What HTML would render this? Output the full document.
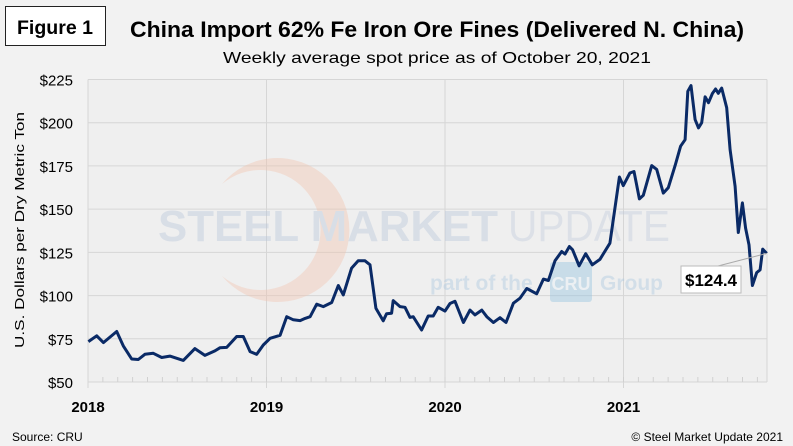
<!DOCTYPE html>
<html><head><meta charset="utf-8"><style>
html,body{margin:0;padding:0;background:#f2f2f2;}
svg{display:block;font-family:"Liberation Sans",sans-serif;}
</style></head><body>
<svg width="793" height="446" viewBox="0 0 793 446">
<rect x="0" y="0" width="793" height="446" fill="#f2f2f2"/>
<rect x="5.5" y="6.5" width="100" height="39" fill="#fff" stroke="#222"/>
<text x="55" y="34" text-anchor="middle" font-size="19" font-weight="bold" textLength="76" lengthAdjust="spacingAndGlyphs">Figure 1</text>
<text x="437" y="37" text-anchor="middle" font-size="22" font-weight="bold" textLength="614" lengthAdjust="spacingAndGlyphs">China Import 62% Fe Iron Ore Fines (Delivered N. China)</text>
<text x="437" y="63" text-anchor="middle" font-size="16" textLength="428" lengthAdjust="spacingAndGlyphs">Weekly average spot price as of October 20, 2021</text>
<rect x="88" y="79" width="679" height="303" fill="#efefef"/>
<g id="grid"></g>
<g opacity="0.4">
<path d="M222 184 A72 72 0 1 1 222 276 A60 60 0 1 0 222 184 Z" fill="#f2c4ae"/>
<text x="158" y="241" font-size="44" font-weight="bold" fill="#b7c5db" textLength="340" lengthAdjust="spacingAndGlyphs">STEEL MARKET</text>
<text x="508" y="241" font-size="44" fill="#c2ccdd" textLength="162" lengthAdjust="spacingAndGlyphs">UPDATE</text>
<text x="430" y="290" font-size="21" font-weight="bold" fill="#a9c7e0">part of the</text>
<rect x="550" y="262" width="42" height="40" rx="3" fill="#8fc2e0"/>
<text x="571" y="290" text-anchor="middle" font-size="18" font-weight="bold" fill="#e8f3fa">CRU</text>
<text x="600" y="290" font-size="21" font-weight="bold" fill="#a9c7e0">Group</text>
</g>
<g id="axes"></g>
<path id="series" fill="none" stroke="#0a2a66" stroke-width="3" stroke-linejoin="round"/>
<line id="leader" stroke="#aaa" stroke-width="1"/>
<rect x="681" y="266" width="60" height="27" fill="#fff" stroke="#bbb"/>
<text id="lastlbl" x="711" y="286" text-anchor="middle" font-size="17" font-weight="bold"></text>
<text x="24" y="230" transform="rotate(-90 24 230)" text-anchor="middle" font-size="13" textLength="236" lengthAdjust="spacingAndGlyphs">U.S. Dollars per Dry Metric Ton</text>
<text x="12" y="441" font-size="12">Source: CRU</text>
<text x="783" y="441" text-anchor="end" font-size="12">© Steel Market Update 2021</text>
</svg>
<script>
const yTicks=[50,75,100,125,150,175,200,225];
const yearLabels=[2018,2019,2020,2021];
const dates=[2018.002,2018.049,2018.086,2018.161,2018.198,2018.245,2018.282,2018.319,2018.366,2018.413,2018.459,2018.534,2018.599,2018.655,2018.711,2018.739,2018.777,2018.833,2018.870,2018.908,2018.945,2018.982,2019.020,2019.076,2019.113,2019.150,2019.188,2019.216,2019.244,2019.281,2019.318,2019.365,2019.402,2019.430,2019.477,2019.514,2019.552,2019.580,2019.613,2019.654,2019.673,2019.701,2019.710,2019.748,2019.776,2019.804,2019.822,2019.869,2019.906,2019.934,2019.962,2020.000,2020.028,2020.056,2020.103,2020.140,2020.168,2020.206,2020.234,2020.271,2020.308,2020.342,2020.383,2020.420,2020.458,2020.514,2020.551,2020.579,2020.616,2020.654,2020.672,2020.697,2020.715,2020.751,2020.788,2020.825,2020.868,2020.924,2020.977,2020.999,2021.036,2021.059,2021.089,2021.111,2021.158,2021.186,2021.223,2021.251,2021.289,2021.320,2021.345,2021.360,2021.378,2021.401,2021.420,2021.438,2021.457,2021.476,2021.498,2021.516,2021.531,2021.550,2021.578,2021.597,2021.625,2021.643,2021.666,2021.684,2021.703,2021.722,2021.746,2021.765,2021.780,2021.802];
const prices=[73.4,76.7,72.8,79.2,70.9,63.3,63,66,66.6,64.2,65,62.5,69.3,65.4,68,69.8,70,76.3,76.3,67.6,66,71.4,75.3,77,87.8,86,85.5,86.8,87.8,95,93.6,96,105.8,100.4,115.9,120.1,120.1,117.8,92.7,85.4,89.5,89.8,97.1,93.6,93.2,87.4,87.8,80.1,88.2,88.2,93.2,91,95.4,96.7,84.4,91.6,88.8,91.6,87.8,84.4,87.2,84.4,95.6,98.5,104.1,101,109.5,108.7,120.1,125.5,124,128.4,126.5,117.2,124.2,117.8,120.9,130.3,168.6,163.6,170.9,171.8,155.9,158,175.2,173,159.3,162.4,175.2,186.4,190.2,218.2,221.5,201.8,197,200,215,211.6,216.9,219.5,217,220,208.6,184.4,163.2,136.5,153.6,139,129.4,105.8,113.3,114.9,126.9,124.4];
const X0=88,X1=767,Y0=382,Y1=79.5,T0=2018,PX_YR=178.5;
const xS=t=>X0+(t-T0)*PX_YR;
const yS=v=>Y0-(v-50)/(225-50)*(Y0-Y1);
const NS='http://www.w3.org/2000/svg';
function mk(tag,attrs,parent){const e=document.createElementNS(NS,tag);for(const k in attrs)e.setAttribute(k,attrs[k]);parent.appendChild(e);return e;}
const grid=document.getElementById('grid'),axes=document.getElementById('axes');
yTicks.forEach(v=>{
  const l=mk('line',{x1:X0,x2:X1,y1:yS(v),y2:yS(v),stroke:'#d6d6d6','stroke-width':1},grid);
  
  
  const t=mk('text',{x:73,y:yS(v)+6,'text-anchor':'end','font-size':15},axes);
  t.textContent='$'+v;
  
  
});
const r=mk('line',{x1:X1,x2:X1,y1:Y1,y2:Y0,stroke:'#d6d6d6'},grid);


yearLabels.forEach(yr=>{
  const x=xS(yr);
  const l=mk('line',{x1:x,x2:x,y1:Y1,y2:Y0+6,stroke:'#d6d6d6'},grid);
  
  
  const t=mk('text',{x:x,y:412,'text-anchor':'middle','font-size':15,'font-weight':'bold'},axes);
  t.textContent=yr;
  
  
});
for(let m=1;m<46;m++){
  const x=xS(T0+m/12); if(x>X1)break;
  const l=mk('line',{x1:x,x2:x,y1:Y0-5,y2:Y0,stroke:'#d0d0d0'},grid);
  
  
}
let d='';
dates.forEach((t,i)=>{d+=(i?'L':'M')+xS(t).toFixed(1)+' '+yS(prices[i]).toFixed(1);});
document.getElementById('series').setAttribute('d',d);
const lx=xS(dates[dates.length-1]),ly=yS(prices[prices.length-1]);
const ld=document.getElementById('leader');
ld.setAttribute('x1',718);ld.setAttribute('y1',266);ld.setAttribute('x2',lx);ld.setAttribute('y2',ly);
document.getElementById('lastlbl').textContent='$'+prices[prices.length-1].toFixed(1);
</script>
</body></html>
